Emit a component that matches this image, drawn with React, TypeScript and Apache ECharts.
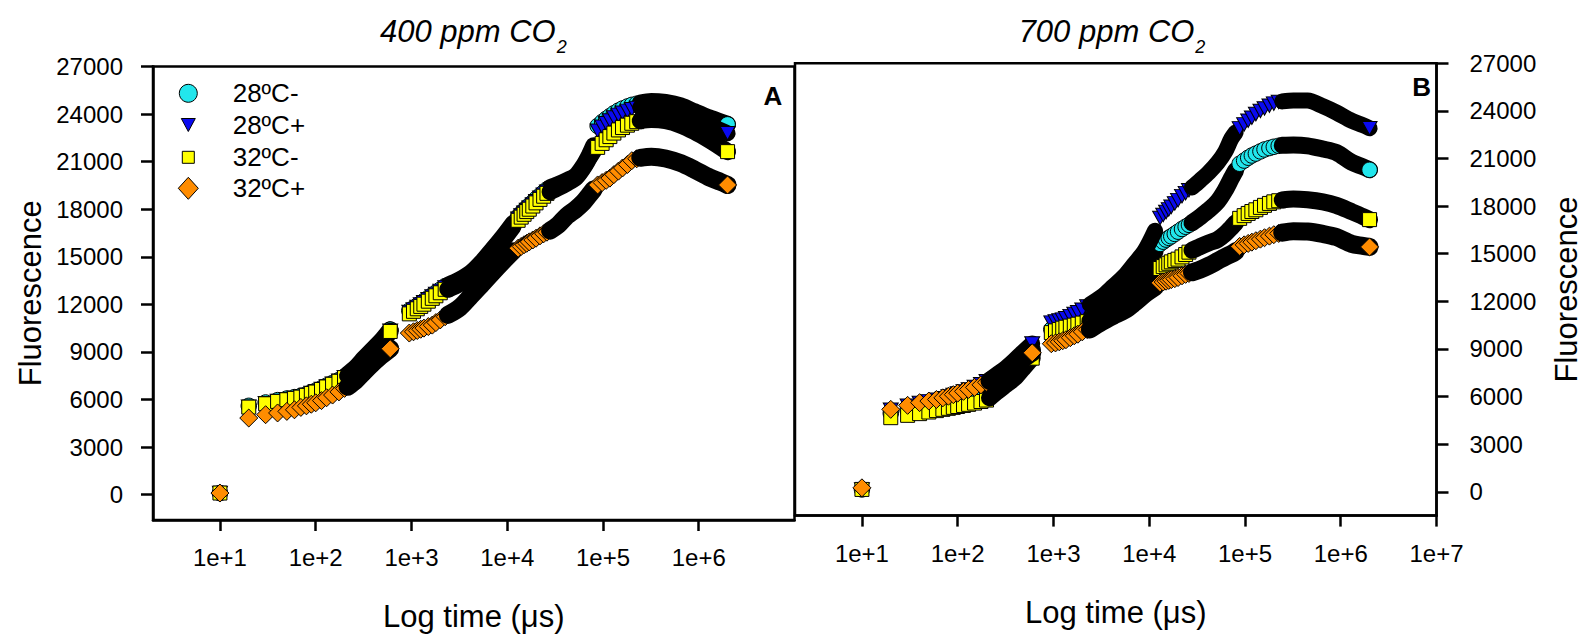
import React, { useEffect, useRef } from "react";
import * as echarts from "echarts";

// ---------- time points (µs) ----------
// visible (sparse) markers at the start of each recording segment
const T_MARKS = [
  [10],
  [20, 30, 40, 50, 60, 70, 80, 90, 100, 115, 130, 150, 175, 200],
  [950, 1050, 1150, 1250, 1350, 1500, 1650, 1800, 2000, 2250],
  [13000, 14000, 15000, 16000, 17000, 18500, 20000, 22000, 24000, 26000],
  [88000, 98000, 108000, 118000, 130000, 145000, 160000, 180000, 200000, 225000],
];
// dense part of each segment (markers overlap into a black band)
const T_BAND = [
  [215, 260, 320, 390, 470, 540, 600],
  [2400, 3200, 4200, 5500, 7000, 9000, 11500],
  [28000, 34000, 42000, 52000, 62000, 72000, 80000],
  [245000, 320000, 450000, 650000, 900000, 1300000, 1700000, 2000000],
];
// last markers of the first segment and of the whole record
const T_ENDS = [600, 2000000];

const X_TICKS_A = [10, 100, 1000, 10000, 100000, 1000000];
const X_TICKS_B = [10, 100, 1000, 10000, 100000, 1000000, 10000000];
const Y_TICKS = [0, 3000, 6000, 9000, 12000, 15000, 18000, 21000, 24000, 27000];
const SERIES_NAMES = ["28ºC-", "28ºC+", "32ºC-", "32ºC+"];

// ---------- Panel A : 400 ppm CO2 ----------
const A_28M_MARKS = [
  [100],
  [5600, 5810, 5960, 6060, 6150, 6230, 6330, 6460, 6550, 6710, 6870, 7040, 7230, 7460],
  [11600, 11760, 11920, 12070, 12210, 12400, 12580, 12740, 12930, 13150],
  [17550, 17750, 17930, 18100, 18250, 18450, 18650, 18870, 19070, 19250],
  [23250, 23500, 23700, 23870, 24050, 24220, 24350, 24480, 24580, 24650],
];
const A_28M_BAND = [
  [7580, 7990, 8590, 9130, 9620, 10050, 10400],
  [13200, 13550, 14000, 14700, 15450, 16250, 17100],
  [19350, 19550, 19800, 20100, 20700, 21400, 22000],
  [24700, 24800, 24730, 24520, 24150, 23750, 23500, 23350],
];
const A_28M_END = [10400, 23350];

const A_28P_MARKS = [
  [100],
  [5550, 5760, 5910, 6015, 6100, 6180, 6280, 6410, 6500, 6660, 6820, 6990, 7180, 7410],
  [11520, 11680, 11840, 11990, 12130, 12320, 12500, 12660, 12850, 13070],
  [17400, 17600, 17780, 17950, 18100, 18300, 18500, 18720, 18920, 19100],
  [22950, 23200, 23420, 23600, 23780, 23950, 24080, 24200, 24300, 24380],
];
const A_28P_BAND = [
  [7530, 7940, 8540, 9080, 9570, 9990, 10330],
  [13120, 13470, 13930, 14620, 15370, 16150, 17000],
  [19200, 19400, 19700, 20000, 20600, 21250, 21850],
  [24420, 24500, 24420, 24150, 23780, 23300, 22980, 22790],
];
const A_28P_END = [10330, 22790];

const A_32M_MARKS = [
  [100],
  [5520, 5730, 5880, 5985, 6070, 6150, 6260, 6380, 6470, 6630, 6790, 6960, 7150, 7380],
  [11400, 11560, 11720, 11870, 12010, 12200, 12380, 12540, 12730, 12950],
  [17300, 17500, 17680, 17850, 18000, 18200, 18400, 18620, 18820, 19000],
  [21900, 22150, 22380, 22580, 22800, 23000, 23150, 23300, 23420, 23520],
];
const A_32M_BAND = [
  [7500, 7910, 8510, 9050, 9540, 9960, 10290],
  [12950, 13300, 13800, 14500, 15250, 16050, 16900],
  [19100, 19350, 19650, 20000, 20600, 21250, 21700],
  [23580, 23650, 23580, 23300, 22900, 22350, 21900, 21630],
];
const A_32M_END = [10290, 21630];

const A_32P_MARKS = [
  [100],
  [4830, 5040, 5150, 5250, 5350, 5500, 5600, 5700, 5790, 5930, 6110, 6280, 6480, 6700],
  [10190, 10270, 10350, 10430, 10500, 10600, 10690, 10850, 11020, 11220],
  [15540, 15650, 15760, 15850, 15940, 16060, 16170, 16320, 16450, 16550],
  [19530, 19680, 19820, 19960, 20180, 20400, 20600, 20820, 21060, 21180],
];
const A_32P_BAND = [
  [6800, 7180, 7740, 8250, 8700, 8980, 9200],
  [11330, 11800, 12550, 13300, 14000, 14700, 15350],
  [16650, 17000, 17580, 18000, 18420, 18900, 19250],
  [21240, 21310, 21200, 20900, 20500, 20000, 19720, 19530],
];
const A_32P_END = [9200, 19530];

// ---------- Panel B : 700 ppm CO2 ----------
const B_28M_MARKS = [
  [150],
  [4950, 5150, 5280, 5380, 5470, 5560, 5650, 5730, 5800, 5910, 6010, 6140, 6300, 6460],
  [10230, 10320, 10410, 10490, 10570, 10700, 10820, 10930, 11080, 11270],
  [15620, 15760, 15890, 16000, 16100, 16250, 16390, 16560, 16700, 16820],
  [20670, 20870, 21050, 21190, 21310, 21450, 21570, 21660, 21740, 21800],
];
const B_28M_BAND = [
  [6560, 6900, 7350, 7850, 8350, 8700, 8950],
  [11380, 11850, 12400, 13000, 13650, 14350, 15150],
  [16950, 17320, 17760, 18300, 19000, 19750, 20250],
  [21830, 21850, 21800, 21600, 21380, 20760, 20480, 20290],
];
const B_28M_END = [8950, 20290];

const B_28P_MARKS = [
  [150],
  [5175, 5427, 5597, 5698, 5795, 5900, 6000, 6100, 6200, 6320, 6450, 6600, 6780, 6960],
  [10660, 10730, 10790, 10850, 10940, 11070, 11200, 11310, 11470, 11670],
  [17250, 17445, 17625, 17795, 17955, 18175, 18380, 18630, 18820, 19000],
  [22900, 23150, 23380, 23570, 23800, 24000, 24150, 24330, 24460, 24560],
];
const B_28P_BAND = [
  [7060, 7420, 7820, 8280, 8750, 9080, 9350],
  [11800, 12300, 12940, 13600, 14370, 15200, 16450],
  [19180, 19620, 20130, 20750, 21420, 22250, 22650],
  [24600, 24660, 24650, 24300, 23900, 23380, 23100, 22910],
];
const B_28P_END = [9350, 22910];

const B_32M_MARKS = [
  [150],
  [4670, 4818, 4925, 5026, 5115, 5195, 5260, 5320, 5375, 5440, 5510, 5590, 5690, 5780],
  [10030, 10140, 10230, 10310, 10370, 10440, 10500, 10560, 10630, 10720],
  [14070, 14190, 14300, 14400, 14490, 14580, 14660, 14800, 14950, 15100],
  [17230, 17400, 17540, 17660, 17770, 17920, 18050, 18170, 18270, 18340],
];
const B_32M_BAND = [
  [5915, 6325, 6750, 7160, 7710, 8130, 8420],
  [10780, 11200, 11700, 12300, 12850, 13350, 13800],
  [15220, 15450, 15680, 15900, 16250, 16650, 16950],
  [18390, 18450, 18400, 18270, 18050, 17650, 17350, 17150],
];
const B_32M_END = [8420, 17150];

const B_32P_MARKS = [
  [250],
  [5195, 5447, 5617, 5718, 5815, 5920, 6020, 6120, 6215, 6330, 6450, 6580, 6740, 6900],
  [9330, 9380, 9450, 9520, 9580, 9710, 9830, 9930, 10080, 10220],
  [13165, 13220, 13270, 13320, 13370, 13430, 13500, 13610, 13700, 13760],
  [15460, 15560, 15650, 15730, 15820, 15920, 16010, 16110, 16200, 16280],
];
const B_32P_BAND = [
  [6980, 7270, 7580, 7930, 8320, 8580, 8760],
  [10230, 10700, 11080, 11430, 11900, 12450, 12900],
  [13830, 14000, 14250, 14550, 14800, 14980, 15150],
  [16330, 16420, 16400, 16250, 16050, 15620, 15500, 15430],
];
const B_32P_END = [8760, 15430];

// ---------- styles ----------
const FONT = '"Liberation Sans", Arial, Helvetica, sans-serif';
const COLORS = ["#22e6ec", "#0a0af0", "#ffff00", "#ff8c00"];
const TRI_DOWN = "path://M0,0L14,0L7,13Z";
const SYMBOLS = ["circle", TRI_DOWN, "rect", "diamond"];
const SIZES: any[] = [15.5, [15, 13.5], 14, 18];
const BAND_W = [17, 16, 17, 18];

function zip(ts: number[], vs: number[]) {
  return ts.map((t, i) => [t, vs[i]]);
}

function curveSeries(panel: number, k: number, marks: number[][], band: number[][], ends: number[]) {
  const out: any[] = [];
  let z = 2 + k * 12;
  const scatter = (data: any[]) => ({
    type: "scatter",
    name: SERIES_NAMES[k],
    xAxisIndex: panel,
    yAxisIndex: panel,
    data,
    symbol: SYMBOLS[k],
    symbolSize: SIZES[k],
    itemStyle: { color: COLORS[k], borderColor: "#000", borderWidth: 1, opacity: 1 },
    z: z++,
    silent: true,
  });
  const line = (data: any[]) => ({
    type: "line",
    name: "band-" + panel + "-" + k + "-" + z,
    xAxisIndex: panel,
    yAxisIndex: panel,
    data,
    showSymbol: false,
    symbol: "none",
    smooth: 0.3,
    lineStyle: { color: "#000", width: BAND_W[k], cap: "round", join: "round", opacity: 1 },
    itemStyle: { color: "#000" },
    z: z++,
    silent: true,
  });
  for (let s = 0; s < 4; s++) {
    const md =
      s === 0
        ? zip(T_MARKS[0], marks[0]).concat(zip(T_MARKS[1], marks[1]))
        : zip(T_MARKS[s + 1], marks[s + 1]);
    out.push(scatter(md));
    out.push(line(zip(T_BAND[s], band[s])));
    if (s === 0) out.push(scatter([[T_ENDS[0], ends[0]]]));
    if (s === 3) out.push(scatter([[T_ENDS[1], ends[1]]]));
  }
  return out;
}

const axisLineStyle = { color: "#000", width: 2.5 };
const logFmt = (v: number) => "1e+" + Math.round(Math.log10(v));

function xAxis(grid: number, ticks: number[], labelTicks: number[], margin: number) {
  return {
    type: "log",
    logBase: 10,
    gridIndex: grid,
    min: 2,
    max: 10000000,
    axisLine: { show: true, onZero: false, lineStyle: axisLineStyle },
    axisTick: { show: true, inside: false, length: 11, customValues: ticks, lineStyle: axisLineStyle },
    axisLabel: {
      show: true,
      customValues: labelTicks,
      formatter: logFmt,
      fontSize: 24,
      color: "#000",
      margin,
      fontFamily: FONT,
    },
    minorTick: { show: false },
    splitLine: { show: false },
    minorSplitLine: { show: false },
    name: "Log time (μs)",
    nameLocation: "middle",
    nameGap: 81,
    nameMoveOverlap: false,
    nameTextStyle: { fontSize: 31, color: "#000", fontFamily: FONT },
  };
}

function yAxis(grid: number, position: string, min: number, margin: number, nameGap: number) {
  return {
    type: "value",
    gridIndex: grid,
    position,
    min,
    max: 27000,
    axisLine: { show: true, onZero: false, lineStyle: axisLineStyle },
    axisTick: { show: true, inside: false, length: 12, customValues: Y_TICKS, lineStyle: axisLineStyle },
    axisLabel: {
      show: true,
      customValues: Y_TICKS,
      formatter: (v: number) => String(Math.round(v)),
      fontSize: 24,
      color: "#000",
      margin,
      fontFamily: FONT,
    },
    splitLine: { show: false },
    name: "Fluorescence",
    nameLocation: "middle",
    nameRotate: 90,
    nameGap,
    nameMoveOverlap: false,
    nameTextStyle: { fontSize: 31, color: "#000", fontFamily: FONT },
  };
}

function titleText(x: number, label: string) {
  return {
    type: "text",
    x,
    y: 16,
    silent: true,
    style: {
      text: "{m|" + label + "}{s|2}",
      align: "center",
      verticalAlign: "top",
      fill: "#000",
      rich: {
        m: { fontSize: 31, fontStyle: "italic", fontFamily: FONT, lineHeight: 31, verticalAlign: "top", fill: "#000" },
        s: {
          fontSize: 18,
          fontStyle: "italic",
          fontFamily: FONT,
          lineHeight: 18,
          verticalAlign: "top",
          padding: [22, 0, 0, 1],
          fill: "#000",
        },
      },
    },
  };
}

function textEl(x: number, y: number, t: string, size: number, weight: string, align: string) {
  return {
    type: "text",
    x,
    y,
    silent: true,
    style: {
      text: t,
      align,
      verticalAlign: "middle",
      fontSize: size,
      fontWeight: weight,
      fontFamily: FONT,
      fill: "#000",
    },
  };
}

// legend drawn in panel A (key to the marker styles)
function legendGraphics() {
  const cx = 188.3;
  const rows = [93.3, 125, 157.3, 188.3];
  const st = (i: number) => ({ fill: COLORS[i], stroke: "#000", lineWidth: 1 });
  return [
    { type: "circle", silent: true, shape: { cx, cy: rows[0], r: 9 }, style: st(0) },
    {
      type: "polygon",
      silent: true,
      shape: { points: [[cx - 7, rows[1] - 6.5], [cx + 7, rows[1] - 6.5], [cx, rows[1] + 6.5]] },
      style: st(1),
    },
    { type: "rect", silent: true, shape: { x: cx - 6, y: rows[2] - 6, width: 12, height: 12 }, style: st(2) },
    {
      type: "polygon",
      silent: true,
      shape: { points: [[cx, rows[3] - 11], [cx + 10, rows[3]], [cx, rows[3] + 11], [cx - 10, rows[3]]] },
      style: st(3),
    },
    ...SERIES_NAMES.map((n, i) => textEl(232.7, rows[i], n, 26, "normal", "left")),
  ];
}

export default function App() {
  const ref = useRef<HTMLDivElement>(null);
  useEffect(() => {
    if (!ref.current) return;
    const chart = echarts.init(ref.current, null, { renderer: "svg" });
    const series = [
      ...curveSeries(0, 0, A_28M_MARKS, A_28M_BAND, A_28M_END),
      ...curveSeries(0, 1, A_28P_MARKS, A_28P_BAND, A_28P_END),
      ...curveSeries(0, 2, A_32M_MARKS, A_32M_BAND, A_32M_END),
      ...curveSeries(0, 3, A_32P_MARKS, A_32P_BAND, A_32P_END),
      ...curveSeries(1, 0, B_28M_MARKS, B_28M_BAND, B_28M_END),
      ...curveSeries(1, 1, B_28P_MARKS, B_28P_BAND, B_28P_END),
      ...curveSeries(1, 2, B_32M_MARKS, B_32M_BAND, B_32M_END),
      ...curveSeries(1, 3, B_32P_MARKS, B_32P_BAND, B_32P_END),
    ];
    const gridCommon = {
      show: true,
      borderColor: "#000",
      borderWidth: 2.5,
      backgroundColor: "transparent",
      containLabel: false,
      outerBoundsMode: "none",
    };
    chart.setOption({
      animation: false,
      backgroundColor: "#fff",
      textStyle: { fontFamily: FONT },
      grid: [
        { ...gridCommon, left: 153, top: 66.5, width: 641.5, height: 453.5 },
        { ...gridCommon, left: 795, top: 63.3, width: 641.5, height: 452.3 },
      ],
      xAxis: [xAxis(0, X_TICKS_A, X_TICKS_A, 25), xAxis(1, X_TICKS_B, X_TICKS_B, 26)],
      yAxis: [yAxis(0, "left", -1600, 30, 107), yAxis(1, "right", -1500, 33, 114.5)],
      graphic: [
        titleText(473.3, "400 ppm CO"),
        titleText(1112, "700 ppm CO"),
        textEl(773, 96, "A", 26, "bold", "center"),
        textEl(1421.7, 86.7, "B", 26, "bold", "center"),
        ...legendGraphics(),
      ],
      series,
    });
    return () => chart.dispose();
  }, []);
  return (
    <div
      ref={ref}
      style={{ position: "fixed", left: 0, top: 0, width: 1584, height: 638, background: "#fff" }}
    />
  );
}
